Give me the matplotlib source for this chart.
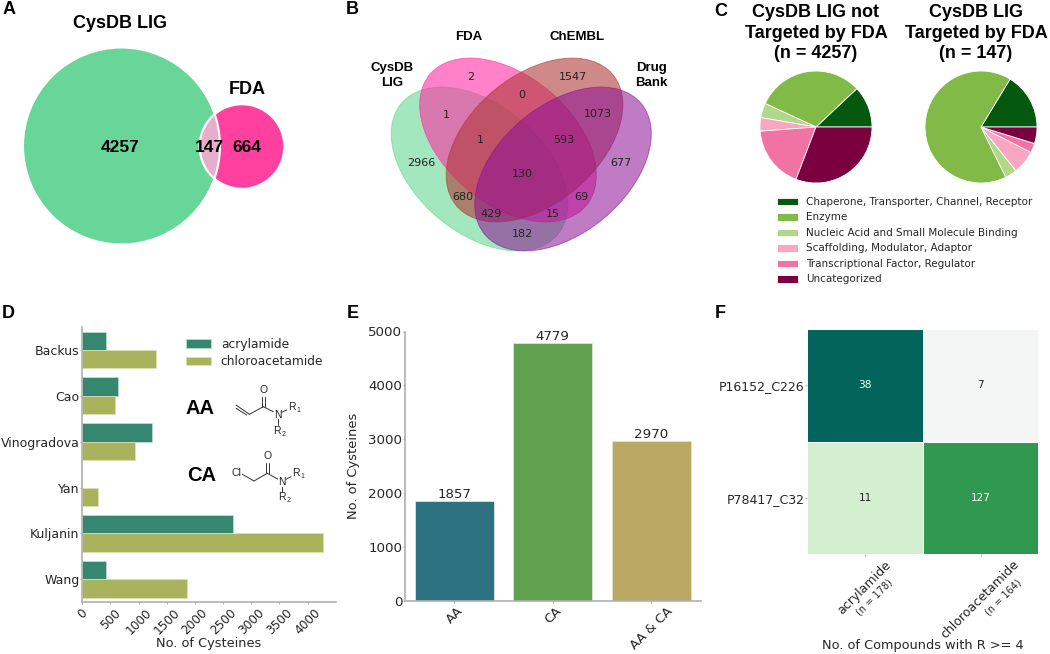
import numpy as np
import matplotlib
matplotlib.use("Agg")
import matplotlib.pyplot as plt
from matplotlib.colors import ListedColormap
from matplotlib.patches import Circle, Ellipse

W, H = 1050, 654

# panel A
venn2_counts = [4257, 147, 664]
venn2_names = ["CysDB LIG", "FDA"]

# panel B
venn4_names = ["CysDB\nLIG", "FDA", "ChEMBL", "Drug\nBank"]
venn4_counts = [2966, 2, 1547, 677, 1, 0, 1073, 1, 593, 130, 680, 69, 429, 15, 182]

# panel C
classes = ["Chaperone, Transporter, Channel, Receptor", "Enzyme",
           "Nucleic Acid and Small Molecule Binding", "Scaffolding, Modulator, Adaptor",
           "Transcriptional Factor, Regulator", "Uncategorized"]
class_colors = ["#05590f", "#82ba48", "#b0d88a", "#f9a6c2", "#f173a3", "#7a0040"]
not_targeted = [511, 1324, 179, 166, 766, 1311]
targeted = [24, 97, 5, 10, 4, 7]

# panel D
datasets = ["Backus", "Cao", "Vinogradova", "Yan", "Kuljanin", "Wang"]
acrylamide = [414, 633, 1243, 0, 2682, 426]
chloroacetamide = [1302, 574, 935, 284, 4280, 1865]

# panel E
groups = ["AA", "CA", "AA & CA"]
group_counts = [1857, 4779, 2970]
group_colors = ["#2c7280", "#60a14f", "#bba963"]

# panel F
sites = ["P16152_C226", "P78417_C32"]
warheads = ["acrylamide", "chloroacetamide"]
warhead_n = ["(n = 178)", "(n = 164)"]
compounds = [[38, 7], [11, 127]]
cell_colors = ["#02645b", "#f4f5f5", "#d4efcf", "#309850"]

SPINE = "#b0b0b0"
INK = "#262626"
HEAD = ["Liberation Sans"]


def px_axes(x0, y0, x1, y1):
    #axes from pixel box, y0 is the top edge
    return fig.add_axes([x0/W, 1 - y1/H, (x1 - x0)/W, (y1 - y0)/H])


fig = plt.figure(figsize=(W/100, H/100), dpi=100)

#overlay in pixel coordinates for the venns, letters and structures
ov = fig.add_axes([0, 0, 1, 1])
ov.set_xlim(0, W)
ov.set_ylim(H, 0)
ov.axis("off")

for letter, x, y in [("A", 9, 10), ("B", 352.7, 10), ("C", 721, 11),
                     ("D", 8, 314), ("E", 353, 314), ("F", 720, 314)]:
    ov.text(x, y, letter, fontsize=13, fontweight="bold", family=HEAD, ha="center", va="center", color="black")

#venn A, radius from the set sizes
k = 98.5/np.sqrt(venn2_counts[0] + venn2_counts[1])
r_big = k*np.sqrt(venn2_counts[0] + venn2_counts[1])
r_small = k*np.sqrt(venn2_counts[1] + venn2_counts[2])
big = Circle((121.5, 146), r_big, fc="#69d699", ec="white", lw=1.5, zorder=2)
small = Circle((242, 146.5), r_small, fc="#ff409f", ec="white", lw=1.5, zorder=2)
ov.add_patch(big)
ov.add_patch(small)
both = Circle((242, 146.5), r_small, fc="#e6aecb", ec="white", lw=1.5, zorder=3)
ov.add_patch(both)
both.set_clip_path(Circle((121.5, 146), r_big, transform=ov.transData))
ring = Circle((121.5, 146), r_big, fc="none", ec="white", lw=1.5, zorder=4)
ov.add_patch(ring)
ring.set_clip_path(Circle((242, 146.5), r_small, transform=ov.transData))
ov.text(120, 24, venn2_names[0], fontsize=13, fontweight="bold", family=HEAD, ha="center", va="center")
ov.text(247, 89.5, venn2_names[1], fontsize=13, fontweight="bold", family=HEAD, ha="center", va="center")
for val, x in zip(venn2_counts, [120, 209.5, 246.5]):
    ov.text(x, 147, str(val), fontsize=12.5, fontweight="bold", family=HEAD, ha="center", va="center", zorder=5)

#venn B
ell = [((479.5, 169), 40, "#5fd68f", 0.58), ((508, 140), 40, "#ff2fa5", 0.6),
       ((534.5, 140), -40, "#b03a3a", 0.6), ((563, 169), -40, "#8c1094", 0.55)]
for c, ang, col, al in ell:
    ov.add_patch(Ellipse(c, 204, 128, angle=ang, fc=col, ec=col, lw=0.7, alpha=al, zorder=2))
for name, x, y in zip(venn4_names, [392, 468.5, 576.7, 651.7], [75.5, 37, 37, 75.5]):
    ov.text(x, y, name, fontsize=9.5, fontweight="bold", family=HEAD, ha="center", va="center", linespacing=1.25)
venn4_xy = [(421, 163), (471, 77), (573, 77), (621, 163), (446, 115), (522, 95), (598, 114),
            (480, 140), (564, 140), (522, 174), (463, 197), (581, 197), (491, 214), (553, 214), (522, 234)]
for val, (x, y) in zip(venn4_counts, venn4_xy):
    ov.text(x, y, str(val), fontsize=8, ha="center", va="center", color="#222222", zorder=5)

#pies
for vals, cx, tx, title in [(not_targeted, 816, 816, "CysDB LIG not\nTargeted by FDA\n(n = 4257)"),
                            (targeted, 981, 976, "CysDB LIG\nTargeted by FDA\n(n = 147)")]:
    a = px_axes(cx - 57, 127 - 57, cx + 57, 127 + 57)
    wedges, _ = a.pie(vals, colors=class_colors, startangle=0, counterclock=True, radius=1,
                      wedgeprops=dict(edgecolor="white", linewidth=0.6))
    a.set_xlim(-57/56, 57/56)
    a.set_ylim(-57/56, 57/56)
    ov.text(tx, 33, title, fontsize=13, fontweight="bold", family=HEAD, ha="center", va="center", linespacing=1.28)
fig.legend(wedges, classes, loc="upper left", bbox_to_anchor=(776.5/W, 1 - 197/H), frameon=False,
           fontsize=7.47, handlelength=2.03, handleheight=0.77, labelspacing=0.53, handletextpad=0.78,
           borderpad=0, borderaxespad=0, labelcolor=INK)

#bars D
ax = px_axes(82.3, 327, 335.7, 602.3)
ypos = np.arange(len(datasets))
ax.barh(ypos - 0.2, acrylamide, 0.4, color="#35886f", edgecolor="#bfe0d4", lw=0.5, label="acrylamide")
ax.barh(ypos + 0.2, chloroacetamide, 0.4, color="#a9b25c", edgecolor="#dfe3b5", lw=0.5, label="chloroacetamide")
ax.set_ylim(5.5, -0.5)
ax.set_xlim(0, 4500)
ax.set_yticks(ypos, datasets)
ax.set_xticks(np.arange(0, 4001, 500))
ax.tick_params(axis="x", labelrotation=45, labelsize=8.7, length=1.5, color=SPINE, labelcolor=INK, pad=1.5)
ax.tick_params(axis="y", labelsize=9.0, length=1.5, color=SPINE, labelcolor=INK, pad=0.5)
ax.set_xlabel("No. of Cysteines", fontsize=9.3, color=INK)
ax.xaxis.set_label_coords(0.5, -(636.5 - 602.3)/275.3)
ax.legend(loc="upper left", bbox_to_anchor=((186 - 82.3)/253.4, 1 - (338 - 327)/275.3), frameon=False, fontsize=8.85,
          handlelength=2.03, handleheight=0.73, labelspacing=0.35, handletextpad=0.8, borderpad=0, borderaxespad=0, labelcolor=INK)
for s in ["top", "right"]:
    ax.spines[s].set_visible(False)
for s in ["left", "bottom"]:
    ax.spines[s].set_color(SPINE)
    ax.spines[s].set_linewidth(1.2)

#structures
ov.set_zorder(5)
ov.patch.set_visible(False)
ov.text(200.5, 409, "AA", fontsize=14.5, fontweight="bold", family=HEAD, ha="center", va="center")
ov.text(201.5, 475.5, "CA", fontsize=14.5, fontweight="bold", family=HEAD, ha="center", va="center")


def bonds(segs):
    for s in segs:
        ov.plot(s[0], s[1], color="#333333", lw=0.7, solid_capstyle="round")


bonds([([236, 249.3], [405, 414.3]), ([236, 246.7], [408.3, 415]), ([249.3, 263.3], [414.3, 406.7]),
       ([263.3, 273.3], [406.7, 411.7]), ([262.3, 262.3], [406.7, 396.7]), ([264.7, 264.7], [406.7, 396.7]),
       ([281.7, 286.7], [412.3, 410]), ([277.7, 277.7], [419.3, 425])])
bonds([([242.3, 254], [474.3, 481]), ([254, 267.3], [481, 473.3]), ([267.3, 277.7], [473.3, 479]),
       ([266.3, 266.3], [473.3, 463.3]), ([268.7, 268.7], [473.3, 463.3]), ([286, 291], [479.3, 476.7]),
       ([281.7, 281.7], [486.7, 491.7])])
for t, x, y, fs in [("O", 264, 390.3, 7.5), ("N", 277.7, 415, 7.5), ("R", 291.7, 407, 7.5), ("1", 298.3, 411, 5),
                    ("R", 276.7, 431, 7.5), ("2", 284, 435, 5), ("Cl", 236.7, 472.7, 7.5), ("O", 267.7, 456, 7.5),
                    ("N", 281.7, 481.7, 7.5), ("R", 295.7, 472.7, 7.5), ("1", 302, 476, 5), ("R", 281.7, 496.7, 7.5),
                    ("2", 289, 500, 5)]:
    ov.text(x, y, t, fontsize=fs, ha="center", va="center", color="#222222", family=HEAD)

#bars E
ax = px_axes(405, 331.5, 700.5, 601)
xpos = np.arange(len(groups))
ax.bar(xpos, group_counts, 0.8, color=group_colors, edgecolor="#dbe6d8", lw=0.6)
for x, v in zip(xpos, group_counts):
    ax.text(x, v + 5, str(v), ha="center", va="bottom", fontsize=9.6, color=INK)
ax.set_xlim(-0.5, 2.5)
ax.set_ylim(0, 5000)
ax.set_xticks(xpos, groups)
ax.tick_params(axis="x", labelrotation=45, labelsize=9.3, length=1.5, color=SPINE, labelcolor=INK, pad=1)
ax.tick_params(axis="y", labelsize=9.6, length=1.5, color=SPINE, labelcolor=INK, pad=0.5)
ax.set_ylabel("No. of Cysteines", fontsize=9.4, color=INK)
ax.yaxis.set_label_coords((360 - 405)/295.5, 0.5)
for s in ["top", "right"]:
    ax.spines[s].set_visible(False)
for s in ["left", "bottom"]:
    ax.spines[s].set_color(SPINE)
    ax.spines[s].set_linewidth(1.2)

#heatmap F, each cell has its own colour in the reference
ax = px_axes(807.3, 329.3, 1038.3, 553.7)
ax.pcolormesh(np.arange(4).reshape(2, 2), cmap=ListedColormap(cell_colors), edgecolors="white", linewidth=0.6)
ax.set_ylim(2, 0)
for i, row in enumerate(compounds):
    for j, v in enumerate(row):
        col = "white" if cell_colors[2*i + j] in ("#02645b", "#309850") else INK
        ax.text(j + 0.5, i + 0.5, str(v), ha="center", va="center", fontsize=7.6, color=col)
ax.set_yticks([0.5, 1.5], sites)
ax.set_xticks([0.5, 1.5], [""]*2)
ax.tick_params(axis="both", length=1.5, color=SPINE, labelsize=9, labelcolor=INK, pad=0.5)
for s in ax.spines.values():
    s.set_visible(False)
for name, n, x1, y1, x2, y2 in zip(warheads, warhead_n, [884, 1012], [558, 558], [887, 1016], [577, 577]):
    ov.text(x1, y1, name, rotation=45, rotation_mode="anchor", ha="right", va="top", fontsize=9, color=INK)
    ov.text(x2, y2, n, rotation=45, rotation_mode="anchor", ha="right", va="top", fontsize=7, color=INK)
ov.text(922.7, 645.5, "No. of Compounds with R >= 4", ha="center", va="center", fontsize=9.3, color=INK)

fig.savefig("out.png", dpi=100)
